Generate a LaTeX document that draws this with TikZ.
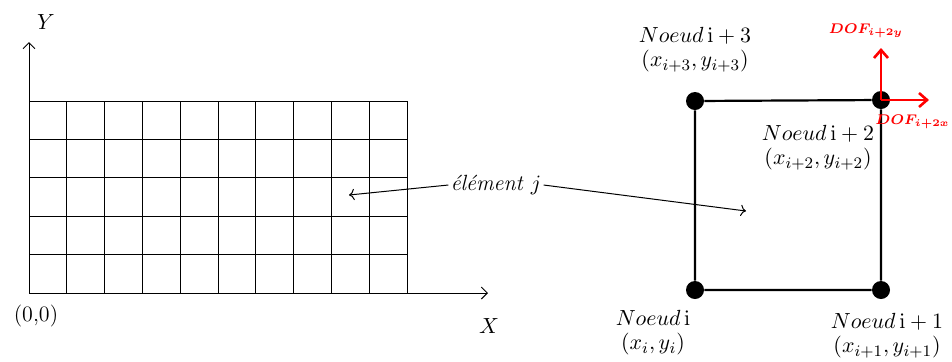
\documentclass[tikz,border=0pt]{standalone}
\usepackage{amsmath,amssymb,bm}
\usepackage{xcolor}
\usepackage{tikz}
\usetikzlibrary{arrows.meta, positioning, calc}
\tikzset{
  lbl/.style={font=\fontsize{11}{13}\selectfont, align=center, inner sep=1pt},
  noeud/.style={circle, fill=black, inner sep=0pt, minimum size=9pt},
  elt/.style={line width=1.1pt},
  dof/.style={-{Straight Barb[length=4pt, width=7pt]}, red, line width=1.3pt},
  doflbl/.style={font=\scriptsize, text=red, inner sep=1pt},
  fleche/.style={->, line width=0.5pt},
  axe/.style={-{Straight Barb[length=3pt, width=6pt]}, line width=0.5pt}
}

\begin{document}
\begin{tikzpicture}[x=0.5pt, y=-0.5pt]
  \useasboundingbox (0,0) rectangle (952,361);
  % maillage
  \foreach \i in {0,...,10}
    \draw[line width=0.5pt] ({29+37.8*\i},101) -- ({29+37.8*\i},293);
  \foreach \j in {0,...,5}
    \draw[line width=0.5pt] (29,{101+38.4*\j}) -- (407,{101+38.4*\j});
  % axes
  \coordinate (o) at (29,293);
  \coordinate (xmax) at (488,293);
  \coordinate (ymax) at (29,42);
  \draw[axe] (o) -- (xmax);
  \draw[axe] (o) -- (ymax);
  \node[lbl] (ylbl) at (46,22) {$Y$};
  \node[lbl] (xlbl) at (489,326) {$X$};
  \node[lbl] (orig) at (36,316) {(0,0)};
  % element
  \node[lbl] (elem) at (496,185) {\textit{élément} $j$};
  \coordinate (cible1) at (349,195);
  \coordinate (cible2) at (746,211);
  \draw[fleche] (elem.west) -- (cible1);
  \draw[fleche] (elem.east) -- (cible2);
  % noeuds
  \node[noeud] (n0) at (695,290) {};
  \node[noeud] (n1) at (881,290) {};
  \node[noeud] (n2) at (881,100) {};
  \node[noeud] (n3) at (695,101) {};
  \draw[elt] (n0) -- (n1) -- (n2) -- (n3) -- (n0);
  % degres de liberte
  \coordinate (dofx) at (929,100);
  \coordinate (dofy) at (881,48);
  \draw[dof] (n2.center) -- (dofx);
  \draw[dof] (n2.center) -- (dofy);
  \node[doflbl, anchor=east] (lx) at (952,122) {$\bm{DOF_{i+2x}}$};
  \node[doflbl] (ly) at (866,31) {$\bm{DOF_{i+2y}}$};
  % etiquettes
  \node[lbl] (t3) at (695,50) {$Noeud\,\mathrm{i}+3$\\[-1pt]$(x_{i+3},y_{i+3})$};
  \node[lbl] (t2) at (818,148) {$Noeud\,\mathrm{i}+2$\\[-1pt]$(x_{i+2},y_{i+2})$};
  \node[lbl] (t0) at (653,333) {$Noeud\,\mathrm{i}$\\[-1pt]$(x_{i},y_{i})$};
  \node[lbl] (t1) at (887,336) {$Noeud\,\mathrm{i}+1$\\[-1pt]$(x_{i+1},y_{i+1})$};
\end{tikzpicture}
\end{document}
